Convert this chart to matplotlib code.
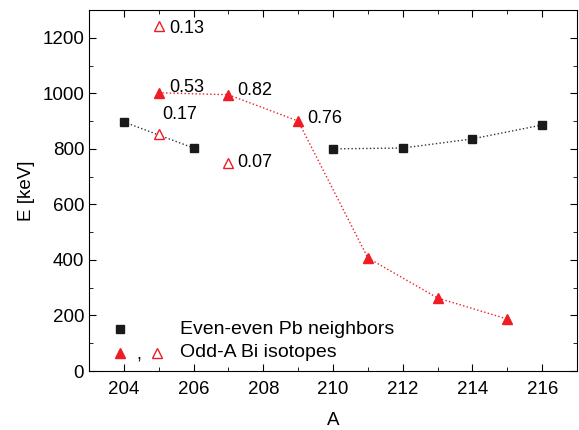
import matplotlib
matplotlib.use('Agg')
import matplotlib.pyplot as plt

plt.rcParams['font.family'] = ['Liberation Sans', 'DejaVu Sans']

# even-even Pb neighbours (two groups)
pb_a1 = [204, 206]
pb_e1 = [897, 803]
pb_a2 = [210, 212, 214, 216]
pb_e2 = [800, 803, 836, 886]

# odd-A Bi isotopes, filled
bi_a = [205, 207, 209, 211, 213, 215]
bi_e = [1002, 995, 900, 407, 263, 187]

# odd-A Bi, open
bi_open_a = [205, 205, 207]
bi_open_e = [1243, 854, 750]

# labels
lab_a = [205, 205, 207, 209, 205, 207]
lab_e = [1243, 1002, 995, 900, 854, 750]
lab_txt = ['0.13', '0.53', '0.82', '0.76', '0.17', '0.07']
lab_dx = [0.3, 0.3, 0.25, 0.25, 0.1, 0.25]
lab_dy = [-8, 20, 14, 8, 70, 0]

red = '#ee1c25'

fig = plt.figure(figsize=(5.79, 4.30), dpi=100)
ax = fig.add_axes([0.1537, 0.1372, 0.843, 0.8395])

ax.plot(pb_a1, pb_e1, ':', color='#333333', lw=1)
ax.plot(pb_a2, pb_e2, ':', color='#333333', lw=1)
ax.plot(pb_a1 + pb_a2, pb_e1 + pb_e2, 's', color='#1a1a1a', ms=6, ls='none')
ax.plot(bi_a, bi_e, ':', color=red, lw=1)
ax.plot(bi_a, bi_e, '^', color=red, ms=7.5, ls='none')
ax.plot(bi_open_a, bi_open_e, '^', mfc='white', mec=red, mew=1, ms=7, ls='none')

for a, e, t, dx, dy in zip(lab_a, lab_e, lab_txt, lab_dx, lab_dy):
    ax.text(a + dx, e + dy, t, fontsize=13, va='center', ha='left')

ax.set_xlim(203, 217)
ax.set_ylim(0, 1300)
ax.set_xticks(range(204, 217, 2))
ax.set_xticks(range(203, 218, 1), minor=True)
ax.set_yticks(range(0, 1201, 200))
ax.set_yticks(range(0, 1301, 100), minor=True)
ax.tick_params(which='both', direction='in', top=True, right=True, labelsize=13.5)
ax.tick_params(which='major', length=5)
ax.tick_params(which='minor', length=3)
ax.tick_params(axis='x', pad=7)
ax.set_xlabel('A', fontsize=13.5, labelpad=10)
ax.set_ylabel('E [keV]', fontsize=13.5, labelpad=5)

# legend drawn by hand
tr = ax.transAxes
ax.plot([0.0635], [0.116], 's', color='#1a1a1a', ms=6, transform=tr)
ax.text(0.186, 0.116, 'Even-even Pb neighbors', transform=tr, fontsize=14, va='center')
ax.plot([0.0635], [0.05], '^', color=red, ms=7.5, transform=tr)
ax.text(0.102, 0.045, ',', transform=tr, fontsize=13, va='center', ha='center')
ax.plot([0.139], [0.05], '^', mfc='white', mec=red, mew=1, ms=7, transform=tr)
ax.text(0.186, 0.05, 'Odd-A Bi isotopes', transform=tr, fontsize=14, va='center')

fig.savefig('out.png', dpi=100)
